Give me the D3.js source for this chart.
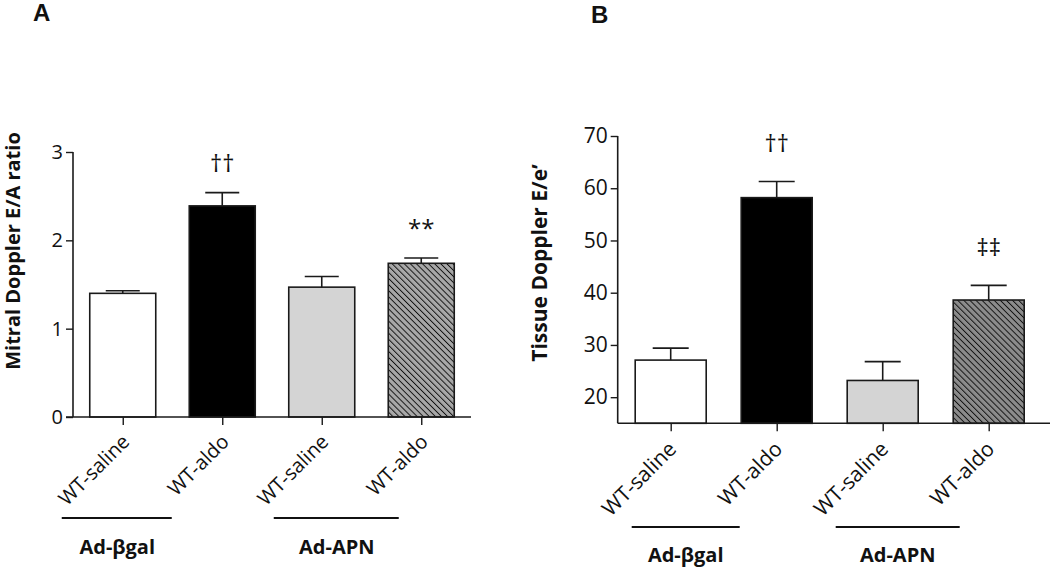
<!DOCTYPE html>
<html>
<head>
<meta charset="utf-8">
<script src="https://cdn.jsdelivr.net/npm/d3@7"></script>
<style>
  html, body { margin: 0; padding: 0; background: #fff; }
  svg { display: block; font-family: "Open Sans", "DejaVu Sans", sans-serif; }
</style>
</head>
<body>
<svg id="chart" width="1050" height="567"></svg>
<script>
// ---- data ----
const categories = ["WT-saline", "WT-aldo", "WT-saline", "WT-aldo"];
const groups = ["Ad-βgal", "Ad-APN"];
const eaMean = [1.40, 2.39, 1.47, 1.74];
const eaSem = [0.03, 0.15, 0.12, 0.06];
const eaMarks = ["", "††", "", "**"];
const eeMean = [27.1, 58.2, 23.2, 38.6];
const eeSem = [2.3, 3.1, 3.6, 2.8];
const eeMarks = ["", "††", "", "‡‡"];
const eaTicks = [0, 1, 2, 3];
const eeTicks = [20, 30, 40, 50, 60, 70];

const svg = d3.select("#chart");
const defs = svg.append("defs");

function hatch(id, bg) {
  const s = 4.3;
  const p = defs.append("pattern").attr("id", id)
    .attr("patternUnits", "userSpaceOnUse")
    .attr("width", s).attr("height", s)
    .attr("patternTransform", "rotate(-45)");
  p.append("rect").attr("width", s).attr("height", s).attr("fill", bg);
  p.append("line").attr("x1", 0).attr("y1", 0).attr("x2", 0).attr("y2", s)
    .attr("stroke", "#111").attr("stroke-width", 1.9);
}
hatch("hatchA", "#a8a8a8");
hatch("hatchB", "#8c8c8c");

function panel(cfg) {
  const g = svg.append("g");
  const x = d3.scalePoint().domain(d3.range(categories.length))
    .range([cfg.x0, cfg.x1]).padding(0.5);
  const y = d3.scaleLinear().domain(cfg.domain).range([cfg.yBottom, cfg.yTop]);
  const fills = ["#ffffff", "#000000", "#d4d4d4", `url(#${cfg.hatch})`];
  const bw = cfg.barW;

  // bars
  g.selectAll("rect.bar").data(cfg.mean).join("rect")
    .attr("class", "bar")
    .attr("x", (d, i) => x(i) - bw / 2)
    .attr("y", d => y(d))
    .attr("width", bw)
    .attr("height", d => y(cfg.domain[0]) - y(d))
    .attr("fill", (d, i) => fills[i])
    .attr("stroke", "#1a1a1a").attr("stroke-width", 1.6);

  // error bars (upper only)
  const eg = g.selectAll("g.err").data(cfg.mean).join("g").attr("class", "err");
  eg.append("line")
    .attr("x1", (d, i) => x(i)).attr("x2", (d, i) => x(i))
    .attr("y1", d => y(d)).attr("y2", (d, i) => y(d + cfg.sem[i]))
    .attr("stroke", "#1a1a1a").attr("stroke-width", 1.6);
  eg.append("line")
    .attr("x1", (d, i) => x(i) - cfg.capW / 2).attr("x2", (d, i) => x(i) + cfg.capW / 2)
    .attr("y1", (d, i) => y(d + cfg.sem[i])).attr("y2", (d, i) => y(d + cfg.sem[i]))
    .attr("stroke", "#1a1a1a").attr("stroke-width", 1.6);

  // significance marks
  g.selectAll("text.mark").data(cfg.marks).join("text")
    .attr("class", "mark")
    .attr("x", (d, i) => x(i))
    .attr("y", (d, i) => y(cfg.mean[i] + cfg.sem[i]) - cfg.markOff)
    .attr("text-anchor", "middle")
    .attr("font-size", 24).attr("fill", "#111")
    .text(d => d);

  // y axis
  const ya = g.append("g").attr("transform", `translate(${cfg.x0},0)`)
    .call(d3.axisLeft(y).tickValues(cfg.ticks).tickSize(7).tickPadding(3).tickFormat(d3.format("d")));
  ya.select(".domain").attr("stroke", "#1a1a1a").attr("stroke-width", 1.6)
    .attr("d", `M0,${cfg.yTop}V${cfg.yBottom}`);
  ya.selectAll(".tick line").attr("stroke", "#1a1a1a").attr("stroke-width", 1.4);
  ya.selectAll(".tick text").attr("font-size", cfg.tickFont).attr("fill", "#111")
    .attr("font-family", "'Open Sans', sans-serif");

  // x axis
  const xa = g.append("g").attr("transform", `translate(0,${cfg.yBottom})`)
    .call(d3.axisBottom(x).tickSize(8).tickFormat(() => ""));
  xa.select(".domain").attr("stroke", "#1a1a1a").attr("stroke-width", 1.6)
    .attr("d", `M${cfg.xAxisStart},0H${cfg.xAxisEnd}`);
  xa.selectAll(".tick line").attr("stroke", "#1a1a1a").attr("stroke-width", 1.4);

  // category labels rotated -45
  g.selectAll("text.cat").data(categories).join("text")
    .attr("class", "cat")
    .attr("transform", (d, i) => `translate(${x(i) + cfg.catDx},${cfg.yBottom + cfg.catDy}) rotate(-45)`)
    .attr("text-anchor", "end")
    .attr("font-size", cfg.catFont).attr("fill", "#111")
    .text(d => d);

  // group lines and labels
  groups.forEach((gname, k) => {
    const a = x(2 * k);
    g.append("line")
      .attr("x1", a + cfg.gl[k][0]).attr("x2", a + cfg.gl[k][1])
      .attr("y1", cfg.gLineY).attr("y2", cfg.gLineY)
      .attr("stroke", "#111").attr("stroke-width", 2);
    g.append("text")
      .attr("x", a + cfg.gText[k]).attr("y", cfg.gTextY)
      .attr("text-anchor", "middle").attr("font-weight", "bold")
      .attr("font-size", cfg.gFont).attr("fill", "#111")
      .text(gname);
  });

  // y title
  g.append("text")
    .attr("transform", `translate(${cfg.titleX},${cfg.titleY}) rotate(-90)`)
    .attr("text-anchor", "middle").attr("font-weight", "bold")
    .attr("font-size", cfg.titleFont).attr("fill", "#111")
    .text(cfg.title);

  // panel letter
  g.append("text").attr("x", cfg.letterX).attr("y", cfg.letterY)
    .attr("font-weight", "bold").attr("font-size", 24).attr("fill", "#111")
    .attr("font-family", "Arial, 'Liberation Sans', sans-serif")
    .text(cfg.letter);
}

panel({
  letter: "A", letterX: 33, letterY: 21,
  x0: 73, x1: 471, xAxisStart: 66, xAxisEnd: 471,
  yBottom: 417, yTop: 152, domain: [0, 3], ticks: eaTicks,
  mean: eaMean, sem: eaSem, marks: eaMarks, hatch: "hatchA",
  barW: 66, capW: 34, markOff: 21, tickFont: 20,
  catDx: 8, catDy: 26, catFont: 20,
  gl: [[-61, 49], [-48, 77]], gLineY: 518, gText: [-5.5, 15], gTextY: 554, gFont: 20,
  title: "Mitral Doppler E/A ratio", titleX: 20, titleY: 251, titleFont: 20
});

panel({
  letter: "B", letterX: 591, letterY: 23,
  x0: 617.7, x1: 1041.7, xAxisStart: 617.7, xAxisEnd: 1050,
  yBottom: 423.3, yTop: 136, domain: [15, 70], ticks: eeTicks,
  mean: eeMean, sem: eeSem, marks: eeMarks, hatch: "hatchB",
  barW: 71, capW: 36, markOff: 29, tickFont: 21,
  catDx: 7, catDy: 27, catFont: 21,
  gl: [[-39, 69], [-47, 77]], gLineY: 527, gText: [15, 15], gTextY: 562, gFont: 20,
  title: "Tissue Doppler E/e’", titleX: 547, titleY: 263, titleFont: 21
});
</script>
</body>
</html>
